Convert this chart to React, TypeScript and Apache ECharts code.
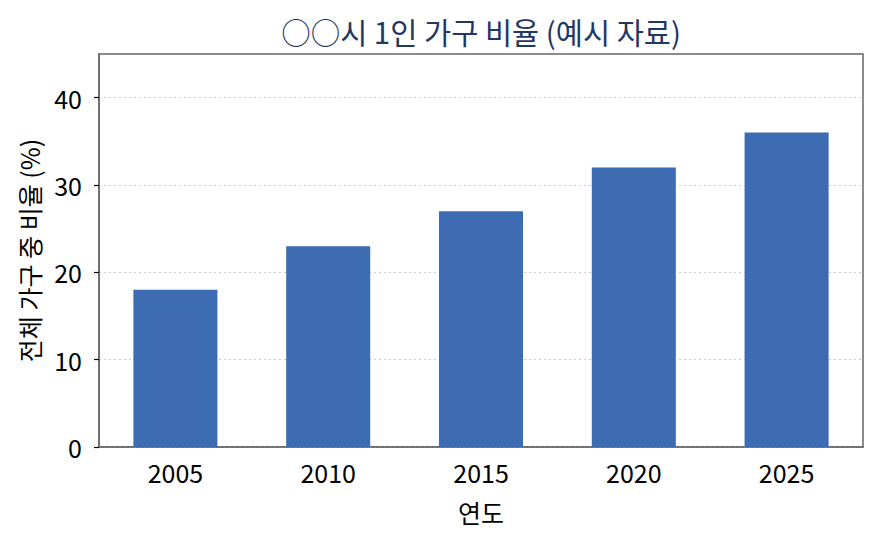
import React, { useEffect, useRef } from "react";
import * as echarts from "echarts";

const years = ["2005", "2010", "2015", "2020", "2025"];
const shares = [18, 23, 27, 32, 36];
const yTicks = [0, 10, 20, 30, 40];

const FONT = "'Noto Sans CJK KR', 'Noto Sans', sans-serif";

export default function App() {
  const ref = useRef<HTMLDivElement>(null);
  useEffect(() => {
    if (!ref.current) return;
    const chart = echarts.init(ref.current, undefined, { renderer: "svg" });
    chart.setOption({
      animation: false,
      textStyle: { fontFamily: FONT },
      graphic: [
        {
          type: "text",
          x: 481,
          y: 31,
          style: {
            text: "○○시 1인 가구 비율 (예시 자료)",
            fontFamily: FONT,
            fontSize: 29.5,
            fill: "#1f3864",
            align: "center",
            verticalAlign: "middle",
          },
        },
      ],
      grid: {
        left: 99,
        right: 17,
        top: 54,
        bottom: 97,
        show: true,
        borderColor: "#666666",
        borderWidth: 1.5,
        backgroundColor: "transparent",
      },
      xAxis: {
        type: "category",
        data: years,
        boundaryGap: true,
        name: "연도",
        nameLocation: "middle",
        nameGap: 52,
        nameTextStyle: { fontFamily: FONT, fontSize: 25, color: "#000" },
        axisLine: { lineStyle: { color: "#666666", width: 1.5 } },
        axisTick: { alignWithLabel: true, length: 5, lineStyle: { color: "#000", width: 1.2 } },
        axisLabel: { fontFamily: FONT, fontSize: 25, color: "#000", margin: 12 },
      },
      yAxis: {
        type: "value",
        min: 0,
        max: 45,
        interval: 10,
        name: "전체 가구 중 비율 (%)",
        nameLocation: "middle",
        nameGap: 58,
        nameTextStyle: { fontFamily: FONT, fontSize: 25, color: "#000" },
        axisLine: { show: true, lineStyle: { color: "#666666", width: 1.5 } },
        axisTick: {
          show: true,
          length: 5,
          customValues: yTicks,
          lineStyle: { color: "#000", width: 1.2 },
        },
        axisLabel: {
          fontFamily: FONT,
          fontSize: 25,
          color: "#000",
          margin: 17,
          customValues: yTicks,
        },
        splitLine: { show: true, lineStyle: { color: "#cccccc", type: [2, 3], width: 1 } },
      },
      series: [
        {
          type: "bar",
          data: shares,
          barWidth: "55%",
          itemStyle: { color: "#3d6cb3" },
        },
      ],
    });
    return () => chart.dispose();
  }, []);
  return (
    <div
      ref={ref}
      style={{ position: "fixed", left: 0, top: 0, width: 880, height: 544, background: "#fff" }}
    />
  );
}
